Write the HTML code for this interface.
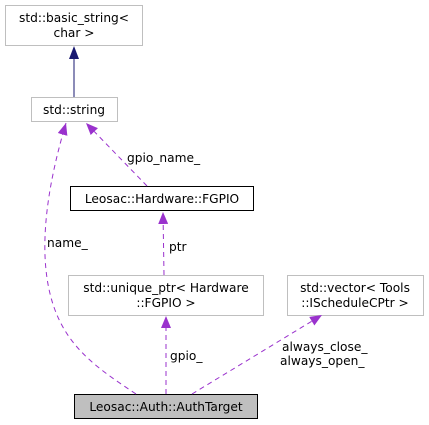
<!DOCTYPE html>
<html><head><meta charset="utf-8"><style>
html,body{margin:0;padding:0;background:#fff;}
svg{display:block;}
text{font-family:"DejaVu Sans","Liberation Sans",sans-serif;font-size:12.2px;fill:#000;}
</style></head><body>
<svg width="429" height="425" viewBox="0 0 429 425" xmlns="http://www.w3.org/2000/svg">
<defs>
<marker id="pa" markerWidth="12" markerHeight="10" refX="12" refY="5" orient="auto" markerUnits="userSpaceOnUse"><path d="M0,0 L12,5 L0,10 z" fill="#9a32cd"/></marker>
</defs>
<rect x="5.5" y="5.5" width="137" height="40" fill="#fff" stroke="#bfbfbf"/>
<text x="74" y="22" text-anchor="middle">std::basic_string&lt;</text>
<text x="74" y="37" text-anchor="middle">char &gt;</text>
<rect x="31.5" y="97.5" width="86" height="24" fill="#fff" stroke="#bfbfbf"/>
<text x="74" y="114" text-anchor="middle">std::string</text>
<rect x="70.5" y="186.5" width="183" height="24" fill="#fff" stroke="#000"/>
<text x="162" y="203" text-anchor="middle">Leosac::Hardware::FGPIO</text>
<rect x="68.5" y="275.5" width="195" height="40" fill="#fff" stroke="#bfbfbf"/>
<text x="166" y="292" text-anchor="middle">std::unique_ptr&lt; Hardware</text>
<text x="166" y="307" text-anchor="middle">::FGPIO &gt;</text>
<rect x="287.5" y="275.5" width="136" height="40" fill="#fff" stroke="#bfbfbf"/>
<text x="355" y="292" text-anchor="middle">std::vector&lt; Tools</text>
<text x="355" y="307" text-anchor="middle">::IScheduleCPtr &gt;</text>
<rect x="74.5" y="394.5" width="183" height="24" fill="#bfbfbf" stroke="#000"/>
<text x="166" y="411" text-anchor="middle">Leosac::Auth::AuthTarget</text>
<line x1="74" y1="97" x2="74" y2="59" stroke="#191970"/>
<path d="M69,59 L74,46 L79,59 z" fill="#191970"/>
<path d="M136,394 C100,370 70,350 55,310 C40,270 40,210 66,123" fill="none" stroke="#9a32cd" stroke-dasharray="5,4" marker-end="url(#pa)"/>
<text x="47" y="247">name_</text>
<path d="M147,186 L86,123" fill="none" stroke="#9a32cd" stroke-dasharray="5,4" marker-end="url(#pa)"/>
<text x="127" y="162">gpio_name_</text>
<path d="M164,275 L163,212" fill="none" stroke="#9a32cd" stroke-dasharray="5,4" marker-end="url(#pa)"/>
<text x="169" y="251">ptr</text>
<path d="M166,394 L166,316" fill="none" stroke="#9a32cd" stroke-dasharray="5,4" marker-end="url(#pa)"/>
<text x="170" y="360">gpio_</text>
<path d="M192,394 L322,315" fill="none" stroke="#9a32cd" stroke-dasharray="5,4" marker-end="url(#pa)"/>
<text x="282" y="351">always_close_</text>
<text x="280" y="365">always_open_</text>
</svg>
</body></html>
